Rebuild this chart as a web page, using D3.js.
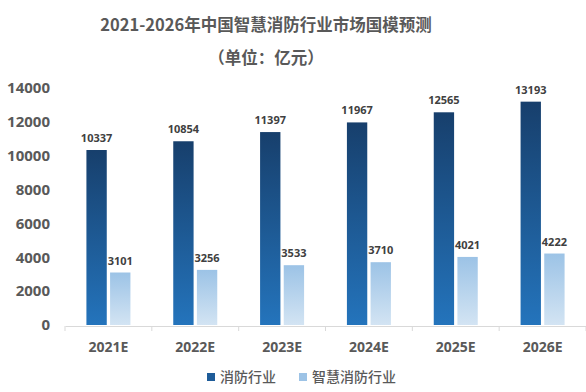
<!DOCTYPE html>
<html>
<head>
<meta charset="utf-8">
<script src="https://cdn.jsdelivr.net/npm/d3@7"></script>
<style>
  body { margin: 0; background: #fff; }
  text { font-family: "Noto Sans CJK SC", "Noto Sans", sans-serif; }
</style>
</head>
<body>
<script>
// 数据
var anios = ["2021E", "2022E", "2023E", "2024E", "2025E", "2026E"];
var xiaofang = [10337, 10854, 11397, 11967, 12565, 13193];
var zhihui = [3101, 3256, 3533, 3710, 4021, 4222];
var series = ["消防行业", "智慧消防行业"];
var yTicks = [0, 2000, 4000, 6000, 8000, 10000, 12000, 14000];

var width = 586, height = 392;
var margin = {top: 88, right: 0, bottom: 66, left: 65};

var svg = d3.select("body").append("svg")
    .attr("width", width)
    .attr("height", height);

// gradientes
var defs = svg.append("defs");
var g1 = defs.append("linearGradient").attr("id", "gDark")
    .attr("x1", 0).attr("y1", 0).attr("x2", 0).attr("y2", 1);
g1.append("stop").attr("offset", "0%").attr("stop-color", "#173f6c");
g1.append("stop").attr("offset", "100%").attr("stop-color", "#2474bc");
var g2 = defs.append("linearGradient").attr("id", "gLight")
    .attr("x1", 0).attr("y1", 0).attr("x2", 0).attr("y2", 1);
g2.append("stop").attr("offset", "0%").attr("stop-color", "#9cc3e6");
g2.append("stop").attr("offset", "100%").attr("stop-color", "#d3e4f3");

// titulo
svg.append("text")
    .attr("x", 266).attr("y", 31)
    .attr("text-anchor", "middle")
    .style("font-size", "16.5px").style("font-weight", "bold")
    .attr("fill", "#595959")
    .text("2021-2026年中国智慧消防行业市场国模预测");
svg.append("text")
    .attr("x", 266).attr("y", 64)
    .attr("text-anchor", "middle")
    .style("font-size", "16.5px").style("font-weight", "bold")
    .attr("fill", "#595959")
    .text("（单位：亿元）");

var y = d3.scaleLinear()
    .domain([0, 14000])
    .range([325, 88]);

var x = d3.scaleBand()
    .domain(anios)
    .range([margin.left, width])
    .padding(0);

var x1 = d3.scaleBand()
    .domain([0, 1])
    .range([x.bandwidth() / 2 - 22, x.bandwidth() / 2 + 22])
    .paddingInner(0.14);

// eje Y (solo etiquetas)
var yAxis = svg.append("g")
    .attr("transform", "translate(52,0)")
    .call(d3.axisLeft(y).tickValues(yTicks).tickSize(0).tickPadding(2).tickFormat(d3.format("d")));
yAxis.select(".domain").remove();
yAxis.selectAll("text")
    .style("font-size", "15px").style("font-weight", "bold")
    .attr("fill", "#595959")
    .style("font-family", "'Noto Sans', sans-serif");

// eje X
var xAxis = svg.append("g")
    .attr("transform", "translate(0,326)")
    .call(d3.axisBottom(x).tickSize(0).tickPadding(16));
xAxis.select(".domain").attr("stroke", "#d9d9d9");
xAxis.selectAll("text")
    .style("font-size", "14px").style("font-weight", "bold")
    .attr("fill", "#595959")
    .style("font-family", "'Noto Sans', sans-serif");

// marcas entre categorias
svg.append("g").selectAll("line")
    .data(anios.concat(["fin"]))
    .enter().append("line")
    .attr("x1", function(d, i) { return margin.left + i * x.bandwidth(); })
    .attr("x2", function(d, i) { return margin.left + i * x.bandwidth(); })
    .attr("y1", 326).attr("y2", 331)
    .attr("stroke", "#d9d9d9");

var datos = [];
anios.forEach(function(a, i) {
    datos.push({anio: a, s: 0, valor: xiaofang[i]});
    datos.push({anio: a, s: 1, valor: zhihui[i]});
});

// barras
svg.append("g").selectAll("rect")
    .data(datos)
    .enter().append("rect")
    .attr("x", function(d) { return x(d.anio) + x1(d.s); })
    .attr("y", function(d) { return y(d.valor); })
    .attr("width", x1.bandwidth())
    .attr("height", function(d) { return y(0) - y(d.valor); })
    .attr("fill", function(d) { return d.s === 0 ? "url(#gDark)" : "url(#gLight)"; });

// etiquetas de valor
svg.append("g").selectAll("text")
    .data(datos)
    .enter().append("text")
    .attr("x", function(d) { return x(d.anio) + x1(d.s) + x1.bandwidth() / 2; })
    .attr("y", function(d) { return y(d.valor) - 8; })
    .attr("text-anchor", "middle")
    .style("font-size", "11px").style("font-weight", "bold")
    .style("font-family", "'Noto Sans', sans-serif")
    .attr("fill", "#404040")
    .text(function(d) { return d.valor; });

// leyenda
var leyenda = svg.append("g").attr("transform", "translate(207,377)");
var pos = [0, 92];
series.forEach(function(s, i) {
    var g = leyenda.append("g").attr("transform", "translate(" + pos[i] + ",0)");
    g.append("rect")
        .attr("x", 0).attr("y", -4).attr("width", 8).attr("height", 8)
        .attr("fill", i === 0 ? "#1e5c99" : "#9dc3e6");
    g.append("text")
        .attr("x", 13).attr("y", 5)
        .style("font-size", "14px").style("font-weight", "500")
        .attr("fill", "#595959")
        .text(s);
});
</script>
</body>
</html>
